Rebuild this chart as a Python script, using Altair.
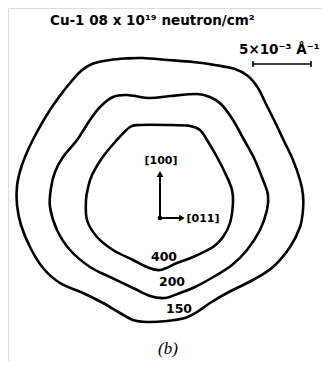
import altair as alt
import pandas as pd

# Contour traces (reciprocal-space map, drawing units; y grows downward)
c150_x = [110, 125, 143, 168, 193, 215, 235, 248, 258, 266, 275, 284, 293, 300, 303, 303, 300, 290, 273, 253, 227, 210, 197, 185, 167, 147, 133, 120, 103, 83, 60, 43, 30, 21, 17, 17, 21, 28, 37, 48, 59, 70, 81, 92]
c150_y = [60, 58.5, 58, 60, 62, 65, 69, 76, 88, 104, 122, 141, 160, 180, 195, 210, 227, 247, 267, 280, 293, 303, 312, 318, 321, 322, 320, 313, 303, 293, 283, 268, 247, 225, 205, 186, 168, 150, 132, 113, 97, 83, 71, 64]

c200_x = [113, 127, 150, 170, 197, 210, 221, 233, 243, 254, 263, 268, 267, 260, 247, 232, 215, 195, 180, 165, 150, 133, 110, 90, 70, 57, 50, 51, 55, 63, 77, 90, 100]
c200_y = [97, 95, 98, 96, 94, 97, 104, 120, 138, 158, 180, 195, 210, 230, 250, 265, 276, 287, 293, 298, 296, 288, 277, 267, 250, 230, 207, 188, 172, 157, 140, 120, 107]

c400_x = [130, 140, 167, 190, 200, 207, 217, 227, 232, 233, 230, 223, 213, 193, 177, 160, 147, 133, 113, 97, 87, 86, 88, 92, 102, 116]
c400_y = [127, 125, 125, 126, 130, 140, 157, 177, 190, 203, 223, 237, 247, 257, 263, 270, 267, 260, 250, 237, 220, 200, 188, 175, 158, 141]

levels = ["150", "200", "400"]
label_x = [179, 172, 164]
label_y = [309, 282, 257]

# direction arrows
origin = (160, 218)
arrow_tip_up = (160, 174)
arrow_tip_right = (182, 218)
dir_labels = ["[100]", "[011]"]
dir_label_x = [161, 203]
dir_label_y = [161, 219]

# scale bar
bar_x = [253, 311]
bar_y = 64
bar_label = "5×10⁻³ Å⁻¹"

title_text = "Cu-1 08 x 10¹⁹ neutron/cm²"
panel_text = "(b)"

rows = []
for lev, xs, ys in [("150", c150_x, c150_y), ("200", c200_x, c200_y), ("400", c400_x, c400_y)]:
    for i, (a, b) in enumerate(zip(xs, ys)):
        rows.append({"level": lev, "x": a, "y": b, "o": i})
curves = pd.DataFrame(rows)

X = alt.Scale(domain=[8, 322], nice=False, zero=False)
Y = alt.Scale(domain=[8, 361], nice=False, zero=False, reverse=True)
xa = lambda f: alt.X(f, type="quantitative", scale=X, axis=None)
ya = lambda f: alt.Y(f, type="quantitative", scale=Y, axis=None)

lines = alt.Chart(curves).mark_line(
    color="black", strokeWidth=2.6, interpolate="cardinal-closed"
).encode(x=xa("x"), y=ya("y"), detail="level:N", order="o:Q")

lab_df = pd.DataFrame({"t": levels, "x": label_x, "y": label_y})
labels = alt.Chart(lab_df).mark_text(
    font="DejaVu Sans", fontSize=12.5, fontWeight="bold", color="black"
).encode(x=xa("x"), y=ya("y"), text="t:N")

arr_df = pd.DataFrame({
    "x": [origin[0], origin[0]], "y": [origin[1], origin[1]],
    "x2": [arrow_tip_up[0], arrow_tip_right[0]], "y2": [arrow_tip_up[1], arrow_tip_right[1]],
})
shafts = alt.Chart(arr_df).mark_rule(color="black", strokeWidth=2).encode(
    x=xa("x"), y=ya("y"), x2="x2:Q", y2="y2:Q")

head_df = pd.DataFrame({
    "x": [arrow_tip_up[0], arrow_tip_right[0], origin[0]],
    "y": [arrow_tip_up[1], arrow_tip_right[1], origin[1]],
    "s": ["triangle-up", "triangle-right", "circle"],
    "sz": [45, 45, 22],
})
heads = alt.Chart(head_df).mark_point(filled=True, color="black", opacity=1).encode(
    x=xa("x"), y=ya("y"),
    shape=alt.Shape("s:N", scale=None, legend=None),
    size=alt.Size("sz:Q", scale=None, legend=None))

dl_df = pd.DataFrame({"t": dir_labels, "x": dir_label_x, "y": dir_label_y})
dlabels = alt.Chart(dl_df).mark_text(
    font="DejaVu Sans", fontSize=11, fontWeight="bold", color="black"
).encode(x=xa("x"), y=ya("y"), text="t:N")

bar_df = pd.DataFrame({"x": [bar_x[0]], "x2": [bar_x[1]], "y": [bar_y]})
bar = alt.Chart(bar_df).mark_rule(color="black", strokeWidth=1.6).encode(
    x=xa("x"), x2="x2:Q", y=ya("y"))
end_df = pd.DataFrame({"x": bar_x, "y": [bar_y - 3] * 2, "y2": [bar_y + 3] * 2})
ends = alt.Chart(end_df).mark_rule(color="black", strokeWidth=1.6).encode(
    x=xa("x"), y=ya("y"), y2="y2:Q")

txt_df = pd.DataFrame({
    "t": [title_text, bar_label],
    "x": [50, 239],
    "y": [21, 50],
})
texts = alt.Chart(txt_df).mark_text(
    font="DejaVu Sans", fontSize=13.5, fontWeight="bold", color="black", align="left"
).encode(x=xa("x"), y=ya("y"), text="t:N")

pb_df = pd.DataFrame({"t": [panel_text], "x": [168], "y": [349]})
pb = alt.Chart(pb_df).mark_text(
    font="Liberation Serif", fontSize=17, fontStyle="italic", color="black"
).encode(x=xa("x"), y=ya("y"), text="t:N")

chart = alt.layer(lines, labels, shafts, heads, dlabels, bar, ends, texts, pb).properties(
    width=314, height=353, padding=0, autosize=alt.AutoSizeParams(type="none")
).configure_view(stroke=None).configure(background="white")

chart.save("out.html", embed_options={"renderer": "svg", "actions": False})
